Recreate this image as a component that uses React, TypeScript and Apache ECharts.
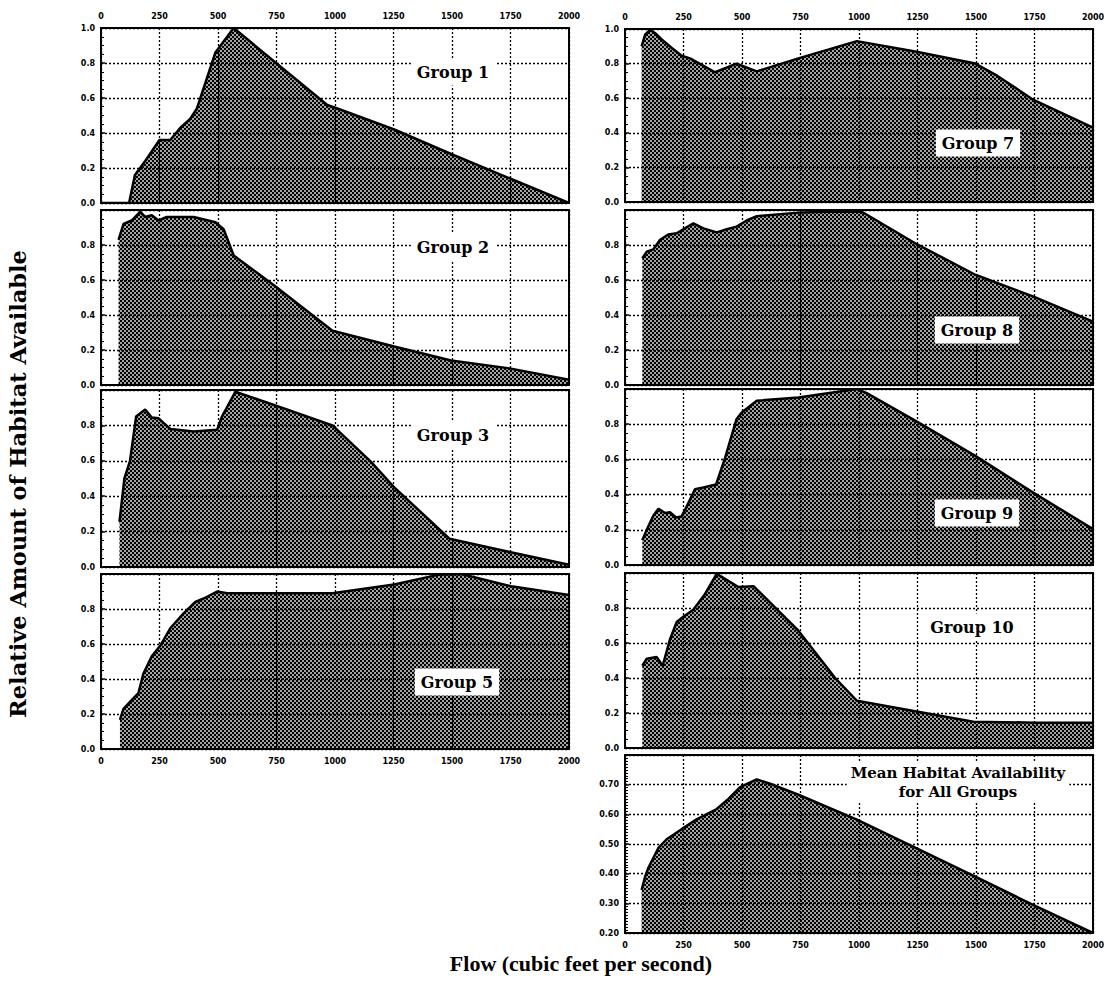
import { useEffect, useRef } from "react";
import * as echarts from "echarts";

const flowTicks = [0, 250, 500, 750, 1000, 1250, 1500, 1750, 2000];

const g1Flow = [0, 120, 145, 189, 250, 296, 339, 381, 410, 489, 567, 739, 967, 1010, 1253, 1496, 2000];
const g1Value = [0, 0, 0.16, 0.24, 0.36, 0.36, 0.43, 0.48, 0.54, 0.86, 1.0, 0.81, 0.56, 0.54, 0.42, 0.28, 0.0];

const g2Flow = [75, 96, 131, 167, 189, 217, 246, 281, 396, 489, 524, 567, 739, 989, 1253, 1496, 1746, 2000];
const g2Value = [0.83, 0.92, 0.94, 0.99, 0.96, 0.97, 0.94, 0.96, 0.96, 0.93, 0.89, 0.74, 0.57, 0.31, 0.22, 0.14, 0.095, 0.03];

const g3Flow = [79, 100, 124, 150, 189, 217, 246, 296, 396, 496, 517, 574, 739, 989, 1153, 1253, 1489, 1746, 2000];
const g3Value = [0.255, 0.5, 0.6, 0.85, 0.89, 0.845, 0.84, 0.78, 0.765, 0.775, 0.85, 0.99, 0.915, 0.8, 0.595, 0.45, 0.16, 0.085, 0.013];

const g5Flow = [81, 96, 131, 160, 181, 217, 253, 296, 353, 403, 439, 496, 539, 739, 989, 1253, 1439, 1539, 1753, 2000];
const g5Value = [0.166, 0.23, 0.28, 0.32, 0.43, 0.53, 0.59, 0.69, 0.775, 0.84, 0.86, 0.9, 0.89, 0.89, 0.89, 0.94, 0.995, 1.0, 0.93, 0.88];

const g7Flow = [71, 86, 107, 128, 157, 200, 242, 278, 385, 477, 563, 741, 991, 1240, 1497, 1590, 1746, 2000];
const g7Value = [0.9, 0.967, 0.995, 0.977, 0.94, 0.89, 0.845, 0.83, 0.75, 0.8, 0.755, 0.83, 0.93, 0.87, 0.8, 0.73, 0.59, 0.43];

const g8Flow = [74, 93, 121, 150, 185, 221, 256, 292, 335, 392, 435, 477, 520, 563, 741, 848, 1012, 1240, 1497, 1746, 2000];
const g8Value = [0.724, 0.762, 0.775, 0.83, 0.86, 0.867, 0.895, 0.924, 0.895, 0.872, 0.89, 0.905, 0.94, 0.965, 0.985, 0.99, 0.99, 0.81, 0.63, 0.505, 0.362];

const g9Flow = [74, 93, 121, 143, 171, 192, 218, 242, 264, 299, 335, 389, 428, 477, 499, 563, 741, 991, 1033, 1240, 1497, 1746, 2000];
const g9Value = [0.14, 0.2, 0.28, 0.32, 0.295, 0.3, 0.27, 0.276, 0.333, 0.43, 0.44, 0.457, 0.61, 0.83, 0.867, 0.933, 0.952, 1.0, 0.977, 0.82, 0.62, 0.41, 0.204];

const g10Flow = [74, 93, 135, 161, 192, 221, 249, 292, 342, 392, 485, 549, 741, 898, 991, 1240, 1489, 1746, 2000];
const g10Value = [0.47, 0.51, 0.52, 0.47, 0.62, 0.72, 0.75, 0.79, 0.88, 0.995, 0.92, 0.925, 0.67, 0.4, 0.27, 0.21, 0.15, 0.145, 0.145];

const meanFlow = [71, 86, 100, 121, 143, 178, 242, 306, 392, 442, 492, 563, 620, 741, 991, 1240, 1497, 1746, 2000];
const meanValue = [0.345, 0.39, 0.42, 0.453, 0.487, 0.516, 0.55, 0.583, 0.618, 0.652, 0.692, 0.718, 0.703, 0.666, 0.582, 0.488, 0.39, 0.294, 0.2];

const groupNames = ["Group 1", "Group 2", "Group 3", "Group 5", "Group 7", "Group 8", "Group 9", "Group 10", "Mean Habitat Availability\nfor All Groups"];

function makePattern() {
  const c = document.createElement("canvas");
  c.width = 4;
  c.height = 4;
  const ctx = c.getContext("2d")!;
  ctx.fillStyle = "#a4a4a4";
  ctx.fillRect(0, 0, 4, 4);
  ctx.fillStyle = "#000";
  ctx.fillRect(0, 0, 2, 2);
  ctx.fillRect(2, 2, 2, 2);
  return c;
}

export default function App() {
  const ref = useRef<HTMLDivElement>(null);
  useEffect(() => {
    if (!ref.current) return;
    const chart = echarts.init(ref.current, undefined, { renderer: "svg" });
    const pattern = makePattern();

    const panels = [
      { flow: g1Flow, value: g1Value, left: 101, top: 28, height: 175, xLab: "top", top1: true },
      { flow: g2Flow, value: g2Value, left: 101, top: 210, height: 175, xLab: "none", top1: false },
      { flow: g3Flow, value: g3Value, left: 101, top: 390, height: 177, xLab: "none", top1: false },
      { flow: g5Flow, value: g5Value, left: 101, top: 574, height: 175, xLab: "bottom", top1: false },
      { flow: g7Flow, value: g7Value, left: 625, top: 29, height: 173, xLab: "top", top1: true },
      { flow: g8Flow, value: g8Value, left: 625, top: 210, height: 175, xLab: "none", top1: false },
      { flow: g9Flow, value: g9Value, left: 625, top: 389, height: 176, xLab: "none", top1: false },
      { flow: g10Flow, value: g10Value, left: 625, top: 573, height: 175, xLab: "none", top1: false },
      { flow: meanFlow, value: meanValue, left: 625, top: 755, height: 178, xLab: "bottom", top1: false, mean: true },
    ];

    const tickFont = { color: "#000", fontWeight: "bold" as const, fontSize: 8, fontFamily: "DejaVu Sans" };
    const split = { show: true, lineStyle: { color: "#000", type: [2, 2] as any, width: 1.3 } };

    const grid = panels.map((p) => ({
      left: p.left,
      top: p.top,
      width: 468,
      height: p.height,
      show: true,
      borderColor: "#000",
      borderWidth: 2,
      backgroundColor: "transparent",
      z: 5,
    }));

    const xAxis = panels.map((p, i) => ({
      type: "value",
      gridIndex: i,
      min: 0,
      max: 2000,
      interval: 250,
      position: p.xLab === "top" ? "top" : "bottom",
      z: 5,
      axisLine: { show: false },
      axisTick: { show: false },
      axisLabel: { show: p.xLab !== "none", margin: 8, formatter: (v: number) => String(v), ...tickFont },
      splitLine: split,
    }));

    const yAxis = panels.map((p: any, i) => ({
      type: "value",
      gridIndex: i,
      min: p.mean ? 0.2 : 0,
      max: p.mean ? 0.8 : 1,
      interval: p.mean ? 0.1 : 0.2,
      z: 5,
      axisLine: { show: false },
      axisTick: { show: true, inside: true, length: 4, lineStyle: { color: "#000", width: 1.5 } },
      minorTick: { show: true, splitNumber: p.mean ? 10 : 4, length: 3, lineStyle: { color: "#000", width: 1 } },
      axisLabel: {
        margin: 6,
        showMaxLabel: p.top1,
        formatter: (v: number) => (p.mean ? v.toFixed(2) : v.toFixed(1)),
        ...tickFont,
      },
      splitLine: split,
    }));

    const series = panels.map((p: any, i) => ({
      type: "line",
      xAxisIndex: i,
      yAxisIndex: i,
      data: p.flow.map((f: number, k: number) => [f, p.value[k]]),
      symbol: "none",
      z: 2,
      lineStyle: { color: "#000", width: 2.5 },
      areaStyle: { origin: "start", opacity: 1, color: { image: pattern, repeat: "repeat" } },
    }));

    const labelPos = [
      [453, 72],
      [453, 247],
      [453, 435],
      [457, 682],
      [978, 143],
      [977, 330],
      [977, 513],
      [972, 627],
      [958, 782],
    ];

    const graphic: any[] = groupNames.map((name, i) => ({
      type: "text",
      x: labelPos[i][0],
      y: labelPos[i][1],
      z: 20,
      style: {
        text: name,
        font: i === 8 ? "bold 15px 'DejaVu Serif'" : "bold 16px 'DejaVu Serif'",
        fill: "#000",
        align: "center",
        verticalAlign: "middle",
        backgroundColor: "#fff",
        padding: i === 8 ? [1, 4] : [4, 6],
        lineHeight: 19,
      },
    }));
    graphic.push({
      type: "text",
      x: 18,
      y: 484,
      rotation: Math.PI / 2,
      style: {
        text: "Relative Amount of Habitat Available",
        font: "bold 22.5px 'DejaVu Serif'",
        fill: "#000",
        align: "center",
        verticalAlign: "middle",
      },
    });
    graphic.push({
      type: "text",
      x: 581,
      y: 963,
      style: {
        text: "Flow (cubic feet per second)",
        font: "bold 22px 'Liberation Serif'",
        fill: "#000",
        align: "center",
        verticalAlign: "middle",
      },
    });

    chart.setOption({
      animation: false,
      backgroundColor: "#fff",
      grid,
      xAxis,
      yAxis,
      series,
      graphic,
    } as any);
    void flowTicks;
    return () => chart.dispose();
  }, []);
  return <div ref={ref} style={{ position: "fixed", left: 0, top: 0, width: 1108, height: 992 }} />;
}
